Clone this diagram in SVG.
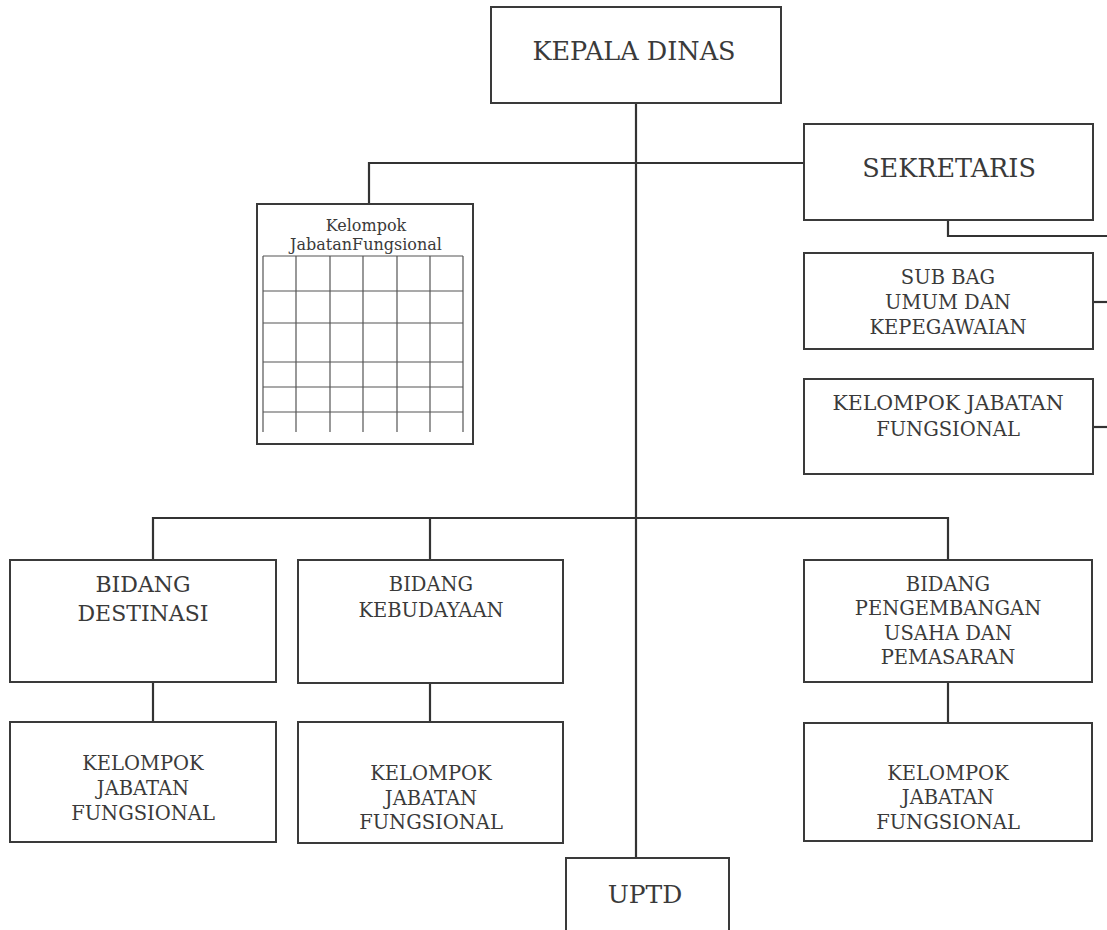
<svg xmlns="http://www.w3.org/2000/svg" width="1107" height="930" viewBox="0 0 1107 930">
<style>
.box{fill:#ffffff;stroke:#3a3a3a;stroke-width:2}
.ln{fill:none;stroke:#333333;stroke-width:2.2}
.grid{fill:none;stroke:#555555;stroke-width:1.2}
text{font-family:"DejaVu Serif","Liberation Serif",serif;fill:#3a3a3a;text-anchor:middle}
.t24{font-size:25.5px}
.t22{font-size:22px}
.t20{font-size:19.5px}
.t15{font-size:16px}
</style>
<rect x="0" y="0" width="1107" height="930" fill="#ffffff"/>
<g id="connectors">
<path class="ln" d="M636 103 V858"/>
<path class="ln" d="M369 163 H804"/>
<path class="ln" d="M369 162 V204"/>
<path class="ln" d="M948 220 V236 H1107"/>
<path class="ln" d="M1093 302 H1107"/>
<path class="ln" d="M1093 427 H1107"/>
<path class="ln" d="M153 560 V518 H948 V560"/>
<path class="ln" d="M430 518 V560"/>
<path class="ln" d="M153 682 V722"/>
<path class="ln" d="M430 683 V722"/>
<path class="ln" d="M948 682 V723"/>
</g>
<g id="kepala-dinas">
<rect class="box" x="491" y="7" width="290" height="96"/>
<text class="t24" x="634" y="60">KEPALA DINAS</text>
</g>
<g id="sekretaris">
<rect class="box" x="804" y="124" width="289" height="96"/>
<text class="t24" x="949" y="177">SEKRETARIS</text>
</g>
<g id="kelompok-grid">
<rect class="box" x="257" y="204" width="216" height="240"/>
<text class="t15" x="366" y="231">Kelompok</text>
<text class="t15" x="366" y="250">JabatanFungsional</text>
<path class="grid" d="M263 256 H463 M263 291 H463 M263 323 H463 M263 362 H463 M263 387 H463 M263 412 H463 M263 256 V432 M296 256 V432 M330 256 V432 M363 256 V432 M397 256 V432 M430 256 V432 M463 256 V432"/>
</g>
<g id="subbag-umum">
<rect class="box" x="804" y="253" width="289" height="96"/>
<text class="t20" x="948" y="284">SUB BAG</text>
<text class="t20" x="948" y="309">UMUM DAN</text>
<text class="t20" x="948" y="334">KEPEGAWAIAN</text>
</g>
<g id="kelompok-sekretariat">
<rect class="box" x="804" y="379" width="289" height="95"/>
<text class="t20" x="948" y="410" style="font-size:20.5px">KELOMPOK JABATAN</text>
<text class="t20" x="948" y="436">FUNGSIONAL</text>
</g>
<g id="bidang-destinasi">
<rect class="box" x="10" y="560" width="266" height="122"/>
<text class="t22" x="143" y="592">BIDANG</text>
<text class="t22" x="143" y="621">DESTINASI</text>
</g>
<g id="bidang-kebudayaan">
<rect class="box" x="298" y="560" width="265" height="123"/>
<text class="t20" x="431" y="591">BIDANG</text>
<text class="t20" x="431" y="617">KEBUDAYAAN</text>
</g>
<g id="bidang-pengembangan">
<rect class="box" x="804" y="560" width="288" height="122"/>
<text class="t20" x="948" y="591">BIDANG</text>
<text class="t20" x="948" y="615">PENGEMBANGAN</text>
<text class="t20" x="948" y="640">USAHA DAN</text>
<text class="t20" x="948" y="664">PEMASARAN</text>
</g>
<g id="kelompok-destinasi">
<rect class="box" x="10" y="722" width="266" height="120"/>
<text class="t20" x="143" y="770">KELOMPOK</text>
<text class="t20" x="143" y="795">JABATAN</text>
<text class="t20" x="143" y="820">FUNGSIONAL</text>
</g>
<g id="kelompok-kebudayaan">
<rect class="box" x="298" y="722" width="265" height="121"/>
<text class="t20" x="431" y="780">KELOMPOK</text>
<text class="t20" x="431" y="805">JABATAN</text>
<text class="t20" x="431" y="829">FUNGSIONAL</text>
</g>
<g id="kelompok-pengembangan">
<rect class="box" x="804" y="723" width="288" height="118"/>
<text class="t20" x="948" y="780">KELOMPOK</text>
<text class="t20" x="948" y="804">JABATAN</text>
<text class="t20" x="948" y="829">FUNGSIONAL</text>
</g>
<g id="uptd">
<rect class="box" x="566" y="858" width="163" height="80"/>
<text class="t24" x="645" y="903" style="font-size:25px">UPTD</text>
</g>
</svg>
